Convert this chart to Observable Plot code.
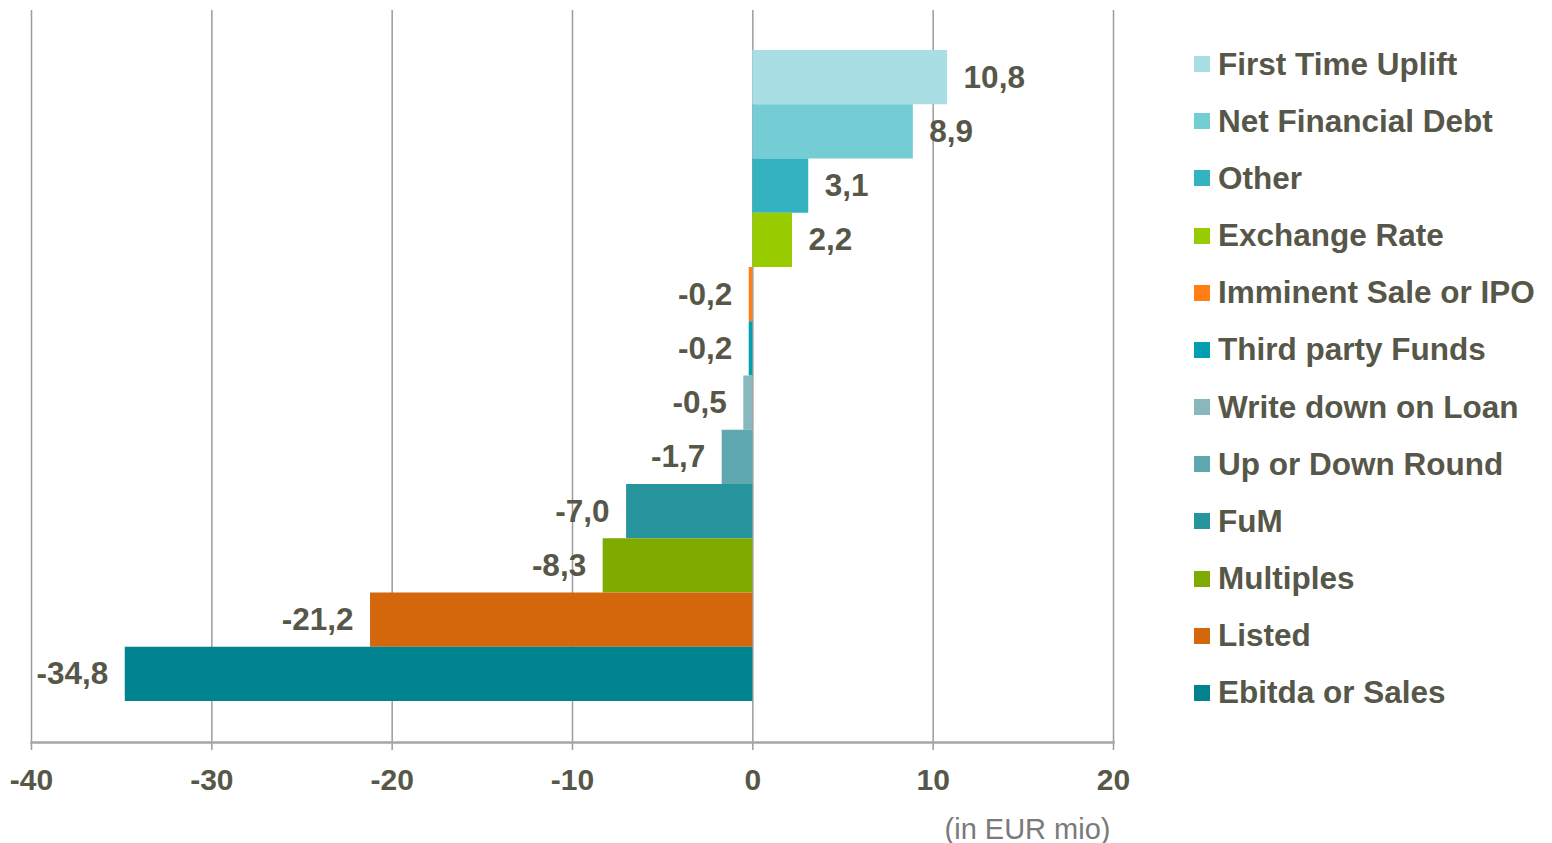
<!DOCTYPE html>
<html>
<head>
<meta charset="utf-8">
<script src="https://cdn.jsdelivr.net/npm/d3@7"></script>
<script src="https://cdn.jsdelivr.net/npm/@observablehq/plot@0.6"></script>
<style>
  html, body { margin: 0; padding: 0; background: #ffffff; }
  #wrap { position: relative; width: 1552px; height: 843px; overflow: hidden; font-family: "Liberation Sans", Arial, sans-serif; }
  #chart { position: absolute; left: 0; top: 0; }
  .lg { position: absolute; left: 1194px; height: 40px; display: flex; align-items: center; white-space: nowrap;
        font-size: 31.5px; font-weight: bold; color: #575749; }
  .sw { width: 16px; height: 16px; margin-right: 8px; flex: none; }
</style>
</head>
<body>
<div id="wrap"><div id="chart"></div></div>
<script>
const categories = ["First Time Uplift", "Net Financial Debt", "Other", "Exchange Rate", "Imminent Sale or IPO",
  "Third party Funds", "Write down on Loan", "Up or Down Round", "FuM", "Multiples", "Listed", "Ebitda or Sales"];
const values = [10.8, 8.9, 3.1, 2.2, -0.2, -0.2, -0.5, -1.7, -7.0, -8.3, -21.2, -34.8];
const colors = ["#a9dfe4", "#74ccd4", "#33b2c0", "#99cc00", "#ff7f14", "#00a0b0",
  "#88b8bc", "#5fa8b0", "#27959e", "#7faa00", "#d4660c", "#00838f"];
const xTicks = [-40, -30, -20, -10, 0, 10, 20];
const unitLabel = "(in EUR mio)";

const data = categories.map((name, i) => ({name, value: values[i]}));
const fmt = d => d.value.toFixed(1).replace(".", ",");
const textColor = "#575749";

const plot = Plot.plot({
  width: 1160,
  height: 843,
  marginLeft: 31,
  marginRight: 47,
  marginTop: 10,
  marginBottom: 101,
  style: {fontFamily: "'Liberation Sans', Arial, sans-serif", background: "#ffffff"},
  x: {domain: [-40, 20]},
  y: {domain: categories, padding: 0, round: false, insetTop: 40, insetBottom: 41, axis: null},
  color: {domain: categories, range: colors},
  marks: [
    Plot.ruleX(xTicks, {stroke: "#9c9c9c", strokeWidth: 1.5, insetBottom: -8}),
    Plot.frame({anchor: "bottom", stroke: "#a6a6a6", strokeWidth: 2.5}),
    Plot.axisX({ticks: xTicks, tickSize: 0, tickPadding: 26, fontSize: 30, fontWeight: "bold",
      color: textColor, tickFormat: d => String(d), label: null}),
    Plot.barX(data, {x: "value", y: "name", fill: "name"}),
    Plot.text(data.filter(d => d.value >= 0), {x: "value", y: "name", text: fmt, textAnchor: "start",
      dx: 16, fontSize: 31.5, fontWeight: "bold", fill: textColor}),
    Plot.text(data.filter(d => d.value < 0), {x: "value", y: "name", text: fmt, textAnchor: "end",
      dx: -17, fontSize: 31.5, fontWeight: "bold", fill: textColor}),
    Plot.text([unitLabel], {frameAnchor: "bottom-right", text: d => d, textAnchor: "end", dx: -3, dy: 96,
      fontSize: 29, fill: "#7a7a7a"})
  ]
});
document.getElementById("chart").appendChild(plot);

const wrap = document.getElementById("wrap");
categories.forEach((name, i) => {
  const row = document.createElement("div");
  row.className = "lg";
  row.style.top = (64 + i * 57.18 - 20) + "px";
  const sw = document.createElement("div");
  sw.className = "sw";
  sw.style.background = colors[i];
  const tx = document.createElement("span");
  tx.textContent = name;
  row.appendChild(sw);
  row.appendChild(tx);
  wrap.appendChild(row);
});
</script>
</body>
</html>
